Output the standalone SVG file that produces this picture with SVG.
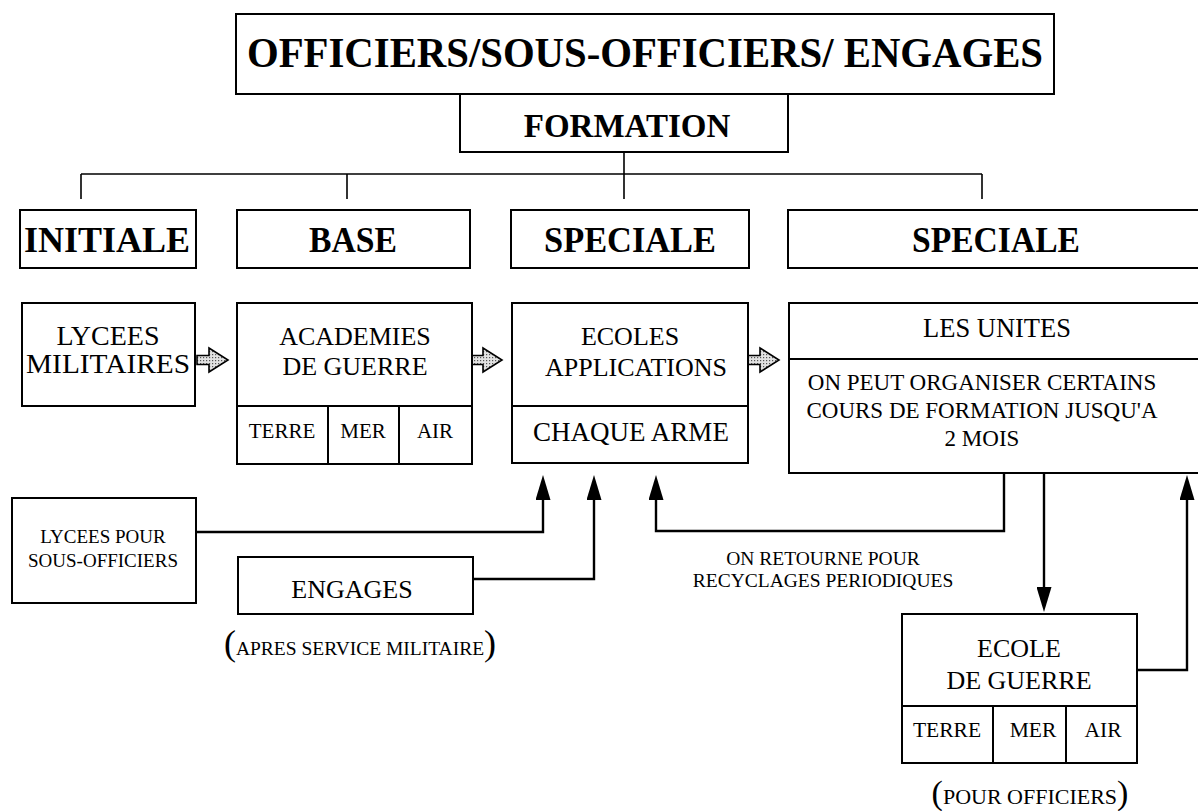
<svg xmlns="http://www.w3.org/2000/svg" xmlns:xlink="http://www.w3.org/1999/xlink" width="1198" height="811" viewBox="0 0 1198 811">
<style>
.box{fill:#fff;stroke:#000;stroke-width:2}
.ln{fill:none;stroke:#000;stroke-width:1.6}
.con{fill:none;stroke:#000;stroke-width:2.4}
text{font-family:'Liberation Serif','DejaVu Serif',serif;fill:#000;text-anchor:middle}
.b{font-weight:bold}
.t26{font-size:26px}
.fat{fill:url(#dots);stroke:#000;stroke-width:1.6;stroke-linejoin:miter}
</style>
<defs>
<pattern id="dots" width="3" height="3" patternUnits="userSpaceOnUse">
<rect width="3" height="3" fill="#e2e2e2"/><rect width="1.2" height="1.2" fill="#555"/>
</pattern>
<marker id="ah" markerUnits="userSpaceOnUse" markerWidth="25" markerHeight="15" refX="15" refY="7.5" orient="auto">
<path d="M0,0 L25,7.5 L0,15 Z" fill="#000"/>
</marker>
<path id="fatArrow" class="fat" d="M0,-4.5 H12 V-12 L31,0 L12,12 V4.5 H0 Z"/>
</defs>
<rect width="1198" height="811" fill="#fff"/>

<g id="title">
<rect class="box" x="236" y="14" width="818" height="80"/>
<text class="b" x="645" y="67" font-size="42" textLength="796" lengthAdjust="spacingAndGlyphs">OFFICIERS/SOUS-OFFICIERS/ ENGAGES</text>
</g>
<g id="formation">
<rect class="box" x="460" y="94" width="328" height="58"/>
<text class="b" x="627" y="137" font-size="33">FORMATION</text>
</g>

<g id="connectors">
<path class="ln" d="M624,152 V199 M81,174 H982 M81,174 V199 M347,174 V199 M982,174 V199"/>
<path class="con" d="M196,532 H543 V485" marker-end="url(#ah)"/>
<path class="con" d="M473,579 H594 V485" marker-end="url(#ah)"/>
<path class="con" d="M1004,473 V531 H656 V485" marker-end="url(#ah)"/>
<path class="con" d="M1044,473 V602" marker-end="url(#ah)"/>
<path class="con" d="M1137,670 H1187 V485" marker-end="url(#ah)"/>
<use xlink:href="#fatArrow" x="197" y="360"/>
<use xlink:href="#fatArrow" x="471" y="360"/>
<use xlink:href="#fatArrow" x="748" y="360"/>
</g>

<g id="initiale">
<rect class="box" x="20" y="210" width="176" height="58"/>
<text class="b" x="107" y="252" font-size="36">INITIALE</text>
</g>
<g id="base">
<rect class="box" x="237" y="210" width="233" height="58"/>
<text class="b" x="353" y="252" font-size="36" textLength="88" lengthAdjust="spacingAndGlyphs">BASE</text>
</g>
<g id="speciale1">
<rect class="box" x="511" y="210" width="238" height="58"/>
<text class="b" x="630" y="252" font-size="36" textLength="172" lengthAdjust="spacingAndGlyphs">SPECIALE</text>
</g>
<g id="speciale2">
<rect class="box" x="788" y="210" width="416" height="58"/>
<text class="b" x="996" y="252" font-size="36" textLength="168" lengthAdjust="spacingAndGlyphs">SPECIALE</text>
</g>

<g id="lycees-militaires">
<rect class="box" x="22" y="303" width="173" height="103"/>
<text x="108" y="345" font-size="28">LYCEES</text>
<text x="108" y="373" font-size="28" textLength="164" lengthAdjust="spacingAndGlyphs">MILITAIRES</text>
</g>

<g id="academies">
<rect class="box" x="237" y="303" width="235" height="161"/>
<line class="ln" x1="237" y1="406" x2="472" y2="406" style="stroke-width:2"/>
<line class="ln" x1="328" y1="406" x2="328" y2="464" style="stroke-width:2"/>
<line class="ln" x1="399" y1="406" x2="399" y2="464" style="stroke-width:2"/>
<text class="t26" x="355" y="345">ACADEMIES</text>
<text class="t26" x="355" y="375">DE GUERRE</text>
<text x="282" y="438" font-size="21">TERRE</text>
<text x="363" y="438" font-size="21">MER</text>
<text x="435" y="438" font-size="21">AIR</text>
</g>

<g id="ecoles">
<rect class="box" x="512" y="303" width="236" height="160"/>
<line class="ln" x1="512" y1="406" x2="748" y2="406" style="stroke-width:2"/>
<text class="t26" x="630" y="345">ECOLES</text>
<text class="t26" x="636" y="376">APPLICATIONS</text>
<text x="631" y="441" font-size="27">CHAQUE ARME</text>
</g>

<g id="unites">
<rect class="box" x="789" y="303" width="415" height="170"/>
<line class="ln" x1="789" y1="359" x2="1204" y2="359" style="stroke-width:2"/>
<text x="997" y="337" font-size="26.5">LES UNITES</text>
<text x="982" y="390" font-size="23">ON PEUT ORGANISER CERTAINS</text>
<text x="982" y="418" font-size="23">COURS DE FORMATION JUSQU'A</text>
<text x="982" y="446" font-size="23">2 MOIS</text>
</g>

<g id="lycees-sous-officiers">
<rect class="box" x="12" y="498" width="184" height="105"/>
<text x="103" y="543" font-size="19">LYCEES POUR</text>
<text x="103" y="567" font-size="19">SOUS-OFFICIERS</text>
</g>

<g id="engages">
<rect class="box" x="238" y="557" width="235" height="57"/>
<text class="t26" x="352" y="598">ENGAGES</text>
<text x="360" y="655"><tspan font-size="36">(</tspan><tspan font-size="19.5">APRES SERVICE MILITAIRE</tspan><tspan font-size="36">)</tspan></text>
</g>

<g id="retour-label">
<text x="823" y="565" font-size="19.5">ON RETOURNE POUR</text>
<text x="823" y="587" font-size="19.5">RECYCLAGES PERIODIQUES</text>
</g>

<g id="ecole-guerre">
<rect class="box" x="902" y="614" width="235" height="149"/>
<line class="ln" x1="902" y1="706" x2="1137" y2="706" style="stroke-width:2"/>
<line class="ln" x1="993" y1="706" x2="993" y2="763" style="stroke-width:2"/>
<line class="ln" x1="1066" y1="706" x2="1066" y2="763" style="stroke-width:2"/>
<text class="t26" x="1019" y="657">ECOLE</text>
<text class="t26" x="1019" y="689">DE GUERRE</text>
<text x="947" y="737" font-size="21.5">TERRE</text>
<text x="1033" y="737" font-size="21.5">MER</text>
<text x="1103" y="737" font-size="21.5">AIR</text>
<text x="1030" y="804"><tspan font-size="34">(</tspan><tspan font-size="22">POUR OFFICIERS</tspan><tspan font-size="34">)</tspan></text>
</g>
</svg>
